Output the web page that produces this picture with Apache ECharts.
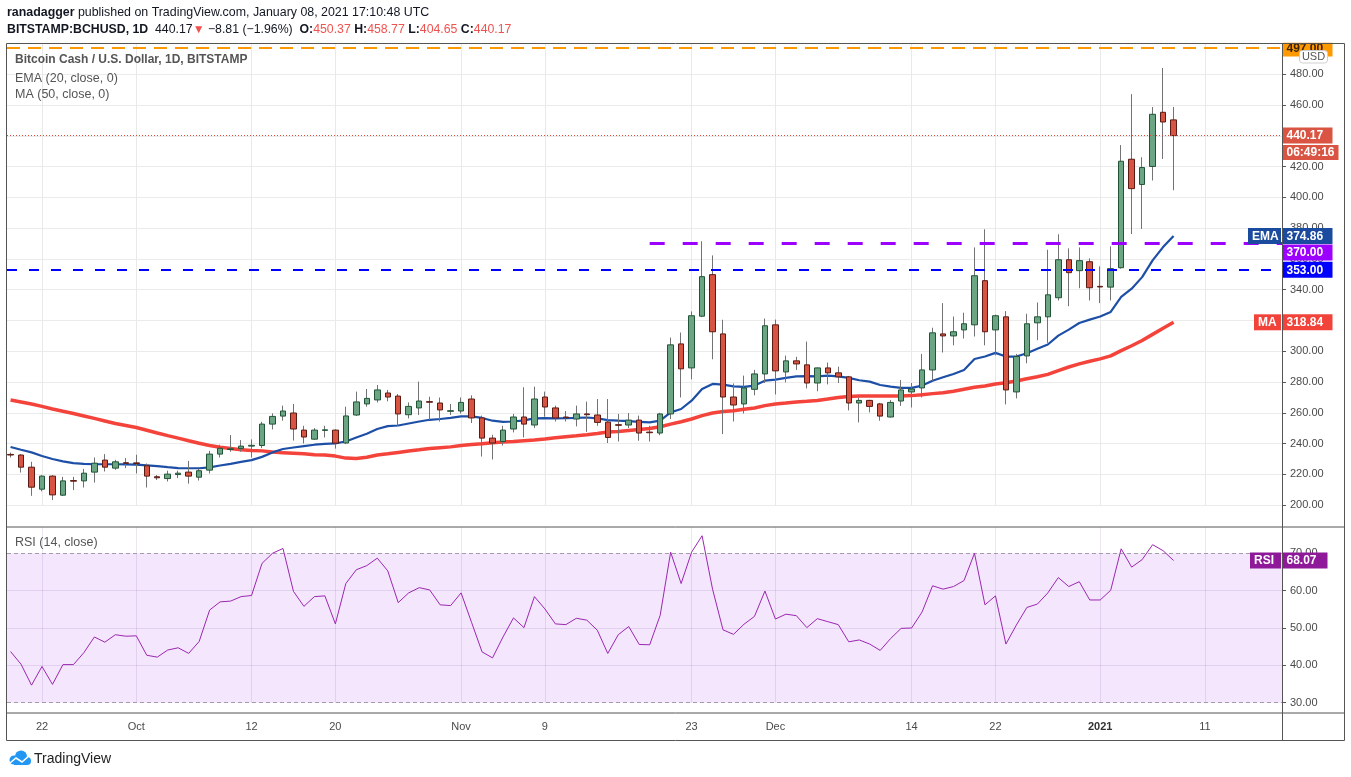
<!DOCTYPE html>
<html lang="en">
<head>
<meta charset="UTF-8">
<title>BCHUSD 1D</title>
<script src="https://cdn.jsdelivr.net/npm/echarts@6/dist/echarts.min.js"></script>
<style>
  html, body { margin: 0; padding: 0; background: #fff; }
  #main { width: 1351px; height: 777px; }
</style>
</head>
<body>
<div id="main"></div>
<script type="text/javascript">
// daily candles, Sep 19 2020 .. Jan 08 2021 (index 0 = Sep 19)
var opens = [233.0,232.6,224.7,210.4,218.9,206.5,216.0,215.8,221.5,229.3,
  224.1,227.6,227.5,225.6,218.5,217.3,219.9,221.5,218.2,222.8,
  233.2,236.2,236.9,238.4,238.8,252.7,257.9,259.9,248.8,242.9,
  248.6,248.8,240.4,258.6,265.8,268.4,272.9,270.9,258.8,263.2,
  267.3,266.4,261.0,261.2,269.0,256.7,243.6,241.4,249.5,257.3,
  252.1,270.3,263.2,257.3,256.0,259.3,258.6,254.0,252.3,252.1,
  255.3,247.5,246.9,259.3,304.8,289.2,322.8,349.8,311.3,270.3,
  265.8,275.3,285.3,317.2,286.6,293.8,291.2,279.4,289.2,286.0,
  283.4,266.4,268.1,265.8,257.3,267.7,273.6,276.2,287.9,311.3,
  310.0,313.9,317.2,345.9,313.9,322.4,273.6,297.0,318.5,322.4,
  334.8,359.5,352.4,358.2,342.2,341.7,354.3,424.8,408.4,420.1,
  455.3,450.37];
var highs = [234.2,233.2,228.2,219.5,219.5,218.4,218.4,223.6,231.0,233.2,
  229.5,230.6,232.8,227.1,219.6,222.4,222.4,228.8,223.6,235.3,
  239.3,245.6,242.3,242.8,254.2,259.7,264.7,265.8,251.6,250.1,
  251.6,249.3,264.0,273.8,275.5,278.1,274.9,272.2,266.8,280.3,
  270.5,270.0,265.8,270.0,271.4,258.2,245.8,251.6,259.3,276.6,
  277.0,273.8,264.7,261.2,264.7,267.3,269.0,269.0,259.3,259.9,
  258.2,251.6,260.0,308.9,312.2,325.9,371.5,362.3,320.5,279.1,
  284.2,287.9,321.3,320.6,297.2,296.4,306.3,289.5,292.7,290.0,
  284.0,270.0,268.5,266.5,268.4,281.4,279.4,298.3,315.3,331.3,
  322.6,325.1,367.5,379.3,323.8,326.1,298.3,324.4,331.7,366.0,
  376.0,366.9,367.5,360.4,355.2,368.2,434.0,467.1,426.1,458.7,
  484.1,458.77];
var lows = [231.0,221.2,206.1,209.0,203.3,206.0,209.8,211.5,214.7,221.9,
  223.0,224.1,220.6,211.5,216.4,215.4,217.6,214.0,216.0,220.6,
  231.0,234.7,234.7,231.0,237.1,249.2,254.9,242.0,240.1,242.5,
  244.0,236.8,239.7,258.0,264.0,266.8,267.5,251.6,256.4,258.6,
  255.3,254.4,258.6,259.6,253.4,231.6,229.7,238.8,247.3,244.0,
  250.1,257.5,254.4,254.4,251.2,247.7,251.6,240.4,241.4,250.1,
  241.9,241.4,245.5,256.0,270.0,281.8,322.2,294.8,246.2,254.4,
  259.6,271.4,279.4,272.0,279.8,287.9,275.9,274.0,278.5,279.4,
  261.6,253.8,260.3,254.9,257.0,264.5,263.5,270.0,280.9,299.2,
  303.9,308.3,309.6,303.9,297.4,265.5,269.4,292.2,307.2,305.5,
  333.0,329.3,341.0,333.0,331.3,333.0,353.7,376.2,379.5,411.0,
  425.0,404.65];
var closes = [232.6,224.7,211.7,218.9,206.7,215.8,215.6,220.8,227.3,224.7,
  228.2,227.2,227.1,218.9,217.8,220.2,220.8,218.9,222.4,233.2,
  237.0,236.6,238.4,238.9,252.7,257.7,261.2,249.5,244.3,248.8,
  249.0,240.3,258.0,267.1,269.4,274.9,270.3,259.3,264.2,267.7,
  266.9,261.9,261.4,266.8,256.7,243.6,240.4,248.8,257.3,252.7,
  269.0,263.8,256.7,256.8,259.3,258.8,253.8,244.0,251.9,255.3,
  246.9,247.1,259.3,304.2,288.6,323.1,348.5,312.7,270.3,265.1,
  276.2,285.3,316.6,287.3,293.8,291.8,279.4,289.2,286.0,283.4,
  266.4,268.1,264.2,257.9,266.8,274.9,275.5,287.9,312.0,310.0,
  312.7,317.9,349.1,312.7,323.1,274.9,296.6,317.9,322.4,336.7,
  359.5,351.1,358.9,341.3,341.8,353.7,423.5,405.7,419.4,454.0,
  449.0,440.17];
var ema20 = [237.8,236.0,234.3,232.0,230.0,228.5,227.3,226.9,226.6,226.6,
  226.6,226.5,226.4,225.9,225.4,224.7,224.1,224.0,224.0,224.6,
  225.8,226.9,228.1,229.3,231.4,234.3,236.5,237.5,238.4,239.3,
  239.9,240.2,241.4,244.0,246.4,249.5,251.4,251.8,253.1,254.4,
  255.5,256.0,256.8,257.7,257.7,256.7,254.9,254.2,254.4,255.1,
  256.4,256.6,256.4,256.5,256.8,257.0,256.4,255.3,254.9,254.6,
  254.2,253.8,254.9,260.3,262.5,267.9,275.5,278.8,278.3,277.2,
  276.9,277.7,280.9,281.6,282.7,283.7,283.9,283.7,284.2,283.7,
  282.7,281.2,280.3,278.1,277.0,276.2,276.2,277.7,280.9,283.1,
  285.3,287.9,295.0,296.6,299.0,296.6,296.6,298.7,301.6,304.4,
  310.2,314.1,318.4,320.6,322.6,325.6,335.3,340.7,348.2,359.1,
  367.7,374.86];
var ma50 = [268.4,267.1,265.8,264.2,262.5,261.0,259.6,258.0,256.4,254.7,
  253.1,251.8,250.5,248.7,246.9,245.2,243.6,241.9,240.3,238.8,
  237.7,236.9,236.0,235.6,235.3,234.5,234.0,233.8,233.4,232.8,
  232.6,231.9,230.6,230.4,231.2,232.6,233.4,234.3,235.2,236.0,
  236.9,237.4,237.9,238.8,239.5,239.9,240.6,241.0,241.4,241.9,
  242.3,243.0,243.8,244.5,245.1,245.8,246.6,247.5,247.9,248.6,
  249.2,249.9,251.0,252.7,254.2,256.0,258.2,259.9,260.9,261.4,
  262.3,263.2,264.7,265.8,266.4,267.1,267.5,268.1,269.0,270.0,
  270.7,271.0,271.0,270.9,270.9,270.9,271.2,271.8,272.5,273.1,
  274.0,275.3,276.6,277.5,278.8,279.6,280.7,282.2,283.5,285.0,
  287.5,289.8,291.8,293.5,295.1,297.0,300.4,303.6,307.0,311.0,
  315.0,318.84];
var rsi14 = [43.7,40.3,34.7,39.7,34.9,40.2,40.2,43.4,47.6,46.2,
  48.2,47.8,47.9,42.7,42.2,44.1,44.7,43.2,46.4,54.8,
  57.0,57.2,58.4,58.7,67.3,70.0,71.3,59.8,55.8,58.4,
  58.6,51.1,61.9,65.6,66.7,68.7,65.3,56.8,59.4,60.8,
  60.2,56.2,56.0,59.4,51.5,43.6,42.0,47.6,52.7,50.1,
  58.4,55.1,51.1,50.9,52.6,52.1,49.4,43.2,48.2,50.4,
  45.6,45.5,53.4,70.3,61.9,70.3,74.7,60.4,49.5,48.3,
  51.0,53.1,59.9,52.4,53.7,53.3,50.1,52.5,51.7,50.9,
  46.3,46.8,45.7,44.0,47.2,49.9,50.0,54.3,61.3,60.4,
  61.1,62.7,70.0,56.2,58.6,45.7,50.8,55.5,56.4,59.4,
  63.5,61.1,62.4,57.5,57.5,60.1,71.2,66.3,68.3,72.3,
  70.7,68.07];

// x-axis ticks (day index -> label)
var tickIdx = [3, 12, 23, 31, 43, 51, 65, 73, 86, 94, 104, 114];
var tickText = ['22', 'Oct', '12', '20', 'Nov', '9', '23', 'Dec', '14', '22', '2021', '11'];

// drawn levels
var levelTop = 497;
var levelResist = 370;
var levelSupport = 353;
var resistFrom = 61;
var lastPrice = 440.17;

var chart = echarts.init(document.getElementById('main'));

var X_MIN = -0.34, X_MAX = 121.35;
var AXIS_X = 1282;
var FONT = 'Liberation Sans, Arial, sans-serif';

function pairs(arr) {
  return arr.map(function (v, i) { return [i, v]; });
}

// wicks: full OHLC drawn thin in grey, bodies drawn on top without shadows
var wickData = opens.map(function (o, i) { return [i, o, closes[i], lows[i], highs[i]]; });
var bodyData = opens.map(function (o, i) {
  var c = closes[i];
  return [i, o, c, Math.min(o, c), Math.max(o, c)];
});

var vLines = tickIdx.map(function (v) { return { xAxis: v }; });

option = {
  animation: false,
  backgroundColor: '#ffffff',
  grid: [
    { left: 7, width: AXIS_X - 7, top: 43.5, height: 461.7, outerBoundsMode: 'none' },
    { left: 7, width: AXIS_X - 7, top: 527, height: 175.7, outerBoundsMode: 'none' }
  ],
  xAxis: [
    { type: 'value', gridIndex: 0, min: X_MIN, max: X_MAX, show: false, splitLine: { show: false } },
    {
      type: 'value', gridIndex: 1, min: X_MIN, max: X_MAX,
      axisLine: { show: false, onZero: false }, axisTick: { show: false }, splitLine: { show: false },
      axisLabel: {
        customValues: tickIdx,
        margin: 19,
        color: '#4a4a4a',
        fontSize: 11,
        fontFamily: FONT,
        formatter: function (v) {
          var k = tickIdx.indexOf(v);
          var t = k >= 0 ? tickText[k] : '';
          return t === '2021' ? '{b|2021}' : t;
        },
        rich: { b: { fontWeight: 'bold', fontSize: 11, color: '#333', fontFamily: FONT } }
      }
    }
  ],
  yAxis: [
    {
      type: 'value', gridIndex: 0, position: 'right', min: 200, max: 500, interval: 20,
      axisLine: { show: false, onZero: false },
      axisTick: { show: true, length: 4, lineStyle: { color: '#555' } },
      axisLabel: {
        margin: 8, color: '#4a4a4a', fontSize: 11, fontFamily: FONT, showMaxLabel: false,
        formatter: function (v) { return v.toFixed(2); }
      },
      splitLine: { lineStyle: { color: '#ebebeb', width: 1 } }
    },
    {
      type: 'value', gridIndex: 1, position: 'right', min: 30, max: 77.04, interval: 10,
      axisLine: { show: false, onZero: false },
      axisTick: { show: true, length: 4, lineStyle: { color: '#555' } },
      axisLabel: {
        margin: 8, color: '#4a4a4a', fontSize: 11, fontFamily: FONT, showMaxLabel: false,
        formatter: function (v) { return v.toFixed(2); }
      },
      splitLine: { show: false }
    }
  ],
  series: [
    {
      name: 'MA', type: 'line', xAxisIndex: 0, yAxisIndex: 0, data: pairs(ma50),
      symbol: 'none', z: 1, lineStyle: { color: '#f4433b', width: 3.5 },
      markLine: {
        silent: true, symbol: 'none', z: 0.5, label: { show: false },
        lineStyle: { color: '#e9e9e9', width: 1, type: 'solid' },
        data: vLines
      }
    },
    {
      name: 'EMA', type: 'line', xAxisIndex: 0, yAxisIndex: 0, data: pairs(ema20),
      symbol: 'none', z: 1, lineStyle: { color: '#1d4fa7', width: 2.2 }
    },
    {
      name: 'wick', type: 'candlestick', xAxisIndex: 0, yAxisIndex: 0, data: wickData,
      encode: { x: 0, y: [1, 2, 3, 4] }, barWidth: 1, z: 2,
      itemStyle: { color: '#737375', color0: '#737375', borderColor: '#737375', borderColor0: '#737375', borderWidth: 1 }
    },
    {
      name: 'BCHUSD', type: 'candlestick', xAxisIndex: 0, yAxisIndex: 0, data: bodyData,
      encode: { x: 0, y: [1, 2, 3, 4] }, barWidth: 6, z: 3,
      itemStyle: { color: '#6ba583', color0: '#d75442', borderColor: '#225437', borderColor0: '#5b1a13', borderWidth: 1 },
      markLine: {
        silent: true, symbol: 'none', label: { show: false },
        data: [
          { yAxis: levelTop, lineStyle: { color: '#ff9800', width: 2, type: [13, 8] } },
          { yAxis: lastPrice, lineStyle: { color: '#e0483a', width: 1, type: [1, 2] } },
          { yAxis: levelSupport, lineStyle: { color: '#0000ff', width: 2, type: [10, 12] } },
          [
            { coord: [resistFrom, levelResist], lineStyle: { color: '#9c00ff', width: 3, type: [15, 18] } },
            { coord: [X_MAX, levelResist] }
          ]
        ]
      }
    },
    {
      name: 'RSI', type: 'line', xAxisIndex: 1, yAxisIndex: 1, data: pairs(rsi14),
      symbol: 'none', z: 2, lineStyle: { color: '#9c27b0', width: 1 },
      markArea: {
        silent: true, z: 1,
        itemStyle: { color: '#f3e6fd' },
        data: [[{ yAxis: 30 }, { yAxis: 70 }]]
      },
      markLine: {
        silent: true, symbol: 'none', z: 1.5, label: { show: false },
        lineStyle: { color: 'rgba(110,60,150,0.13)', width: 1, type: 'solid' },
        data: vLines.concat([
          { yAxis: 40 }, { yAxis: 50 }, { yAxis: 60 },
          { yAxis: 30, lineStyle: { color: '#a49ca8', width: 1, type: [4, 3] } },
          { yAxis: 70, lineStyle: { color: '#a49ca8', width: 1, type: [4, 3] } }
        ])
      }
    }
  ]
};

chart.setOption(option);

// overlay: frame, price tags, texts
var yP = function (v) { return chart.convertToPixel({ yAxisIndex: 0 }, v); };
var yR = function (v) { return chart.convertToPixel({ yAxisIndex: 1 }, v); };

var g = [];
function box(x, yc, w, h, bg, txt, color) {
  g.push({ type: 'rect', z: 100, shape: { x: x, y: yc - h / 2, width: w, height: h }, style: { fill: bg } });
  g.push({ type: 'text', z: 101, x: x + 4, y: yc + 0.5,
    style: { text: txt, fill: color || '#fff', font: 'bold 12px ' + FONT, textVerticalAlign: 'middle' } });
}
function line(x1, y1, x2, y2) {
  g.push({ type: 'line', z: 110, shape: { x1: x1, y1: y1, x2: x2, y2: y2 }, style: { stroke: '#555', lineWidth: 1 } });
}

// price tags on the right scale
box(AXIS_X + 0.5, yP(levelTop), 50, 17, '#ff9900', levelTop.toFixed(2), '#3a2400');
g.push({ type: 'rect', z: 105, shape: { x: AXIS_X, y: 30, width: 64, height: 12.8 }, style: { fill: '#fff' } });
g.push({ type: 'rect', z: 106, shape: { x: 1299.5, y: 50.5, width: 28, height: 12.5, r: 3 }, style: { fill: '#fff', stroke: '#cfcfcf', lineWidth: 1 } });
g.push({ type: 'text', z: 107, x: 1313.5, y: 57, style: { text: 'USD', fill: '#555', font: '11px ' + FONT, textAlign: 'center', textVerticalAlign: 'middle' } });

var yLast = yP(lastPrice);
box(AXIS_X + 0.5, yLast, 50, 16, '#da5443', lastPrice.toFixed(2));
box(AXIS_X + 0.5, yLast + 17, 56, 15, '#da5443', '06:49:16');

var yEma = yP(ema20[ema20.length - 1]);
box(1248, yEma, 33, 16, '#1b4b9e', 'EMA');
box(AXIS_X + 0.5, yEma, 50, 16, '#1b4b9e', ema20[ema20.length - 1].toFixed(2));
box(AXIS_X + 0.5, yEma + 16.5, 50, 16, '#9c00ff', levelResist.toFixed(2));
box(AXIS_X + 0.5, yP(levelSupport), 50, 16, '#0000ff', levelSupport.toFixed(2));

var yMa = yP(ma50[ma50.length - 1]);
box(1254, yMa, 27, 16, '#f2433a', 'MA');
box(AXIS_X + 0.5, yMa, 50, 16, '#f2433a', ma50[ma50.length - 1].toFixed(2));

var yRsi = yR(rsi14[rsi14.length - 1]);
box(1250, yRsi, 31, 16, '#8e1a9a', 'RSI');
box(AXIS_X + 0.5, yRsi, 45, 16, '#8e1a9a', rsi14[rsi14.length - 1].toFixed(2));

// frame
line(6.5, 43.5, 1344.5, 43.5);
line(6.5, 43.5, 6.5, 740.5);
line(1344.5, 43.5, 1344.5, 740.5);
line(AXIS_X + 0.5, 43.5, AXIS_X + 0.5, 740.5);
line(6.5, 527, 1344.5, 527);
line(6.5, 713, 1344.5, 713);
line(6.5, 740.5, 1344.5, 740.5);

// header
g.push({ type: 'text', z: 120, x: 7, y: 13, style: {
  text: '{b|ranadagger}{n| published on TradingView.com, January 08, 2021 17:10:48 UTC}',
  textVerticalAlign: 'middle',
  rich: {
    b: { font: 'bold 12.4px ' + FONT, fill: '#131722' },
    n: { font: '12.4px ' + FONT, fill: '#131722' }
  }
} });
g.push({ type: 'text', z: 120, x: 7, y: 30, style: {
  text: '{b|BITSTAMP:BCHUSD, 1D}{n|  440.17}{r|▼}{n| −8.81 (−1.96%)  }{b|O:}{v|450.37}{n| }{b|H:}{v|458.77}{n| }{b|L:}{v|404.65}{n| }{b|C:}{v|440.17}',
  textVerticalAlign: 'middle',
  rich: {
    b: { font: 'bold 12.3px ' + FONT, fill: '#131722' },
    n: { font: '12.3px ' + FONT, fill: '#131722' },
    r: { font: '12px ' + FONT, fill: '#ef5350' },
    v: { font: '12.3px ' + FONT, fill: '#ef5350' }
  }
} });

// pane legends
g.push({ type: 'text', z: 120, x: 15, y: 60, style: { text: 'Bitcoin Cash / U.S. Dollar, 1D, BITSTAMP', fill: '#555', font: 'bold 12px ' + FONT, textVerticalAlign: 'middle' } });
g.push({ type: 'text', z: 120, x: 15, y: 79, style: { text: 'EMA (20, close, 0)', fill: '#555', font: '12.5px ' + FONT, textVerticalAlign: 'middle' } });
g.push({ type: 'text', z: 120, x: 15, y: 95, style: { text: 'MA (50, close, 0)', fill: '#555', font: '12.5px ' + FONT, textVerticalAlign: 'middle' } });
g.push({ type: 'text', z: 120, x: 15, y: 543, style: { text: 'RSI (14, close)', fill: '#555', font: '12.5px ' + FONT, textVerticalAlign: 'middle' } });

// TradingView mark
g.push({ type: 'circle', z: 120, shape: { cx: 14, cy: 760, r: 4.5 }, style: { fill: '#2196f3' } });
g.push({ type: 'circle', z: 120, shape: { cx: 21, cy: 756.5, r: 6 }, style: { fill: '#2196f3' } });
g.push({ type: 'circle', z: 120, shape: { cx: 27, cy: 761, r: 4 }, style: { fill: '#2196f3' } });
g.push({ type: 'rect', z: 120, shape: { x: 14, y: 759, width: 13, height: 6 }, style: { fill: '#2196f3' } });
g.push({ type: 'polyline', z: 121, shape: { points: [[10, 763], [16, 758], [22, 762], [30, 755]] }, style: { stroke: '#fff', lineWidth: 1.6, fill: null } });
g.push({ type: 'text', z: 120, x: 34, y: 759, style: { text: 'TradingView', fill: '#222', font: '14px ' + FONT, textVerticalAlign: 'middle' } });

chart.setOption({ graphic: g });
</script>
</body>
</html>
